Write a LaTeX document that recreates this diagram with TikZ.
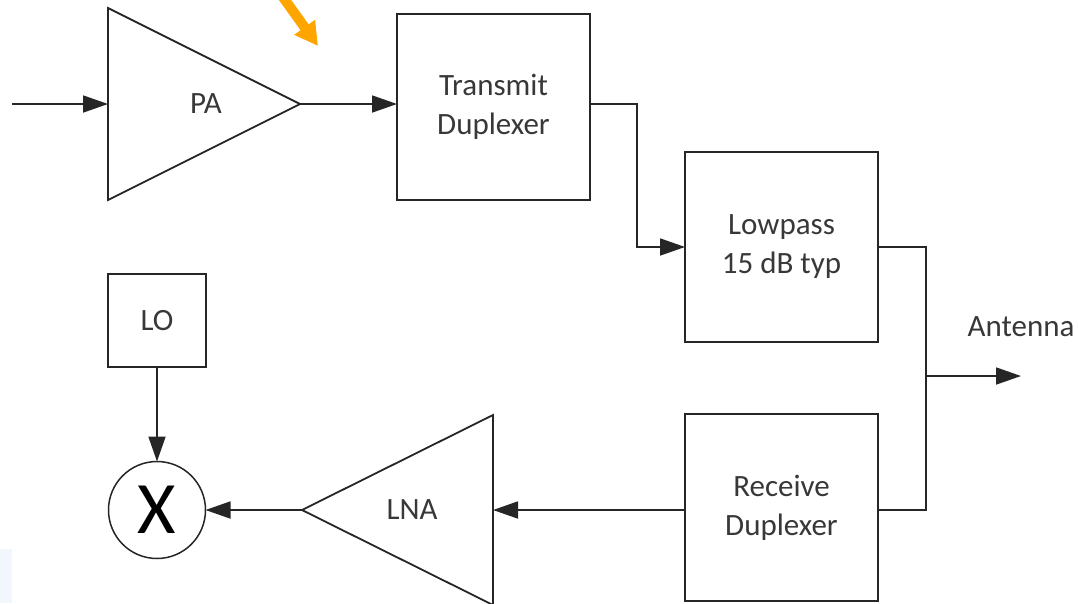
\documentclass[tikz,border=0pt]{standalone}
\usepackage{fontspec}
\setmainfont{Carlito}
\usetikzlibrary{arrows.meta}
\definecolor{ink}{HTML}{262626}
\definecolor{txt}{HTML}{383838}
\definecolor{pointer}{HTML}{FFA500}
\definecolor{haze}{HTML}{F3F6FC}
\begin{document}
\begin{tikzpicture}[x=1pt,y=-1pt,
  blk/.style={draw=ink, line width=1.8pt, rectangle, inner sep=0pt, outer sep=0pt,
    align=center, font=\fontsize{31}{39}\selectfont, text=txt},
  lbl/.style={inner sep=0pt, font=\fontsize{31}{39}\selectfont, text=txt},
  wire/.style={draw=ink, line width=1.8pt},
  sig/.style={wire, -{Triangle[length=25pt,width=17pt]}},
  amp/.style={draw=ink, line width=1.8pt, line join=miter}]
\useasboundingbox (0,0) rectangle (1078,603);
\fill[haze] (0,549) rectangle (12,603);

% transmit chain
\draw[amp] (108,8) -- (300,104) -- (108,200) -- cycle;
\coordinate (src) at (12,104);
\coordinate (pain) at (108,104);
\coordinate (paout) at (300,104);
\node[lbl] (pa) at (206,104) {PA};
\node[blk, minimum width=193pt, minimum height=186pt] (tx) at (493.5,107) {Transmit\\Duplexer};
\node[blk, minimum width=193pt, minimum height=190pt] (lp) at (781.5,247) {Lowpass\\15 dB typ};
\coordinate (bendA) at (637,104);

\draw[sig] (src) -- (pain);
\draw[sig] (paout) -- (tx.west |- paout);
\draw[sig] (tx.east |- bendA) -- (bendA) |- (lp.west);

% antenna junction
\coordinate (join) at (926,376);
\coordinate (ant) at (1021,376);
\node[lbl] (antlbl) at (1021,327) {Antenna};
\draw[wire] (lp.east) -| (join);
\draw[sig] (join) -- (ant);

% receive chain
\node[blk, minimum width=193pt, minimum height=187pt] (rx) at (781.5,507.5) {Receive\\Duplexer};
\draw[amp] (493,415) -- (302,510) -- (493,605) -- cycle;
\coordinate (lnain) at (493,510);
\coordinate (lnaout) at (302,510);
\node[lbl] (lna) at (412,510) {LNA};
\draw[wire] (rx.east |- lnain) -| (join);
\draw[sig] (rx.west |- lnain) -- (lnain);

% mixer and local oscillator
\node[blk, minimum width=98pt, minimum height=93pt] (lo) at (157,320.5) {LO};
\node[circle, draw=ink, line width=1.5pt, minimum size=97pt, inner sep=0pt, outer sep=0pt,
  font=\fontsize{74}{74}\selectfont, text=black] (mix) at (157,510) {X};
\draw[sig] (lnaout) -- (mix.east);
\draw[sig] (lo.south) -- (mix.north);

% highlight pointer
\coordinate (ptail) at (275,-14);
\coordinate (ptip) at (318,46);
\draw[draw=pointer, line width=10pt, -{Triangle[length=23pt,width=24pt]}] (ptail) -- (ptip);
\end{tikzpicture}
\end{document}
